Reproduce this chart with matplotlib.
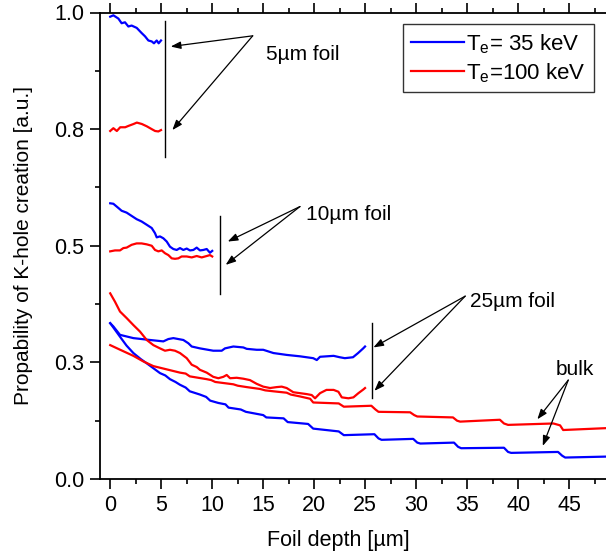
"""Probability of K-hole creation vs foil depth for 5/10/25 um foils and bulk."""

import matplotlib
matplotlib.use('Agg')
import matplotlib.pyplot as plt
from matplotlib.ticker import MultipleLocator

plt.rcParams['font.family'] = ['Liberation Sans', 'DejaVu Sans']
plt.rcParams['mathtext.fontset'] = 'custom'
plt.rcParams['mathtext.rm'] = 'Liberation Sans'

# ── data ──────────────────────────────────────────────────────────────────────
# 5 um foil
f5_35_x = [0, 0.31, 0.8, 1.12, 1.45, 1.78, 2.1, 2.6, 3.08, 3.41, 3.74, 4.07, 4.29, 4.56, 4.75, 4.98]
f5_35_y = [0.991, 0.994, 0.987, 0.977, 0.979, 0.970, 0.972, 0.967, 0.956, 0.949, 0.940, 0.938,
           0.934, 0.940, 0.934, 0.940]
f5_100_x = [0, 0.31, 0.65, 0.98, 1.47, 1.8, 2.29, 2.61, 3.1, 3.59, 4.07, 4.4, 4.72, 4.98]
f5_100_y = [0.746, 0.752, 0.746, 0.754, 0.754, 0.757, 0.761, 0.764, 0.761, 0.756, 0.750,
            0.746, 0.745, 0.748]

# 10 um foil
f10_35_x = [0, 0.31, 0.8, 1.12, 1.61, 2.1, 2.59, 3.08, 3.58, 4.07, 4.39, 4.56, 4.88, 5.21,
            5.54, 5.86, 6.19, 6.52, 6.84, 7.17, 7.5, 7.82, 8.15, 8.48, 8.8, 9.13, 9.46, 9.78, 10.0]
f10_35_y = [0.591, 0.590, 0.581, 0.575, 0.571, 0.564, 0.557, 0.552, 0.545, 0.538, 0.527,
            0.518, 0.520, 0.516, 0.509, 0.498, 0.493, 0.491, 0.495, 0.491, 0.494, 0.490,
            0.491, 0.496, 0.490, 0.491, 0.493, 0.485, 0.489]
f10_100_x = [0, 0.47, 0.96, 1.29, 1.61, 2.1, 2.59, 3.08, 3.58, 4.07, 4.39, 4.72, 5.05, 5.37,
             5.7, 6.03, 6.35, 6.68, 7.0, 7.5, 7.99, 8.48, 8.97, 9.46, 9.78, 10.0]
f10_100_y = [0.488, 0.490, 0.490, 0.495, 0.496, 0.502, 0.505, 0.505, 0.503, 0.500, 0.491,
             0.488, 0.490, 0.484, 0.480, 0.473, 0.472, 0.473, 0.477, 0.477, 0.475, 0.478,
             0.475, 0.478, 0.480, 0.477]

# 25 um foil
f25_35_x = [0, 0.31, 0.96, 2.27, 3.9, 5.21, 5.7, 6.19, 7.17, 7.66, 7.99, 8.8, 10.1, 10.93,
            11.25, 12.07, 13.05, 13.38, 14.36, 15.0, 16.0, 17.3, 18.6, 19.9, 20.25, 20.57,
            21.9, 22.5, 23.0, 23.8, 24.3, 24.8, 24.98]
f25_35_y = [0.334, 0.327, 0.309, 0.302, 0.298, 0.295, 0.300, 0.302, 0.298, 0.291, 0.284,
            0.280, 0.275, 0.275, 0.280, 0.284, 0.282, 0.279, 0.277, 0.277, 0.270, 0.266,
            0.263, 0.259, 0.255, 0.262, 0.264, 0.261, 0.259, 0.261, 0.270, 0.280, 0.284]
f25_100_x = [0, 0.47, 0.96, 1.61, 2.27, 2.92, 3.58, 4.23, 4.88, 5.37, 5.86, 6.35, 6.84, 7.5,
             7.99, 8.48, 8.8, 9.46, 10.1, 10.6, 11.09, 11.42, 11.75, 12.4, 13.05, 13.7, 14.36,
             15.0, 15.67, 16.32, 16.81, 17.3, 17.95, 18.6, 19.26, 19.75, 20.08, 20.57, 21.2,
             21.9, 22.37, 22.7, 23.35, 23.84, 24.33, 24.82, 24.98]
f25_100_y = [0.398, 0.380, 0.359, 0.345, 0.330, 0.316, 0.298, 0.287, 0.280, 0.275, 0.277,
             0.275, 0.270, 0.259, 0.245, 0.240, 0.234, 0.228, 0.219, 0.216, 0.219, 0.223,
             0.216, 0.217, 0.215, 0.212, 0.204, 0.198, 0.195, 0.197, 0.198, 0.195, 0.186,
             0.184, 0.182, 0.180, 0.173, 0.184, 0.191, 0.191, 0.187, 0.175, 0.173, 0.175,
             0.184, 0.192, 0.195]

# bulk
bulk_35_x = [0, 0.3, 0.96, 1.6, 2.27, 3.0, 3.58, 4.2, 4.88, 5.4, 5.86, 6.4, 6.84, 7.4, 7.8,
             8.8, 9.4, 9.8, 10.6, 11.3, 11.6, 12.8, 13.3, 15.0, 15.3, 17.0, 17.4, 19.4, 19.9,
             22.4, 22.9, 25.9, 26.3, 26.6, 29.7, 30.1, 30.4, 33.7, 34.1, 34.4, 38.6, 39.0,
             39.3, 43.9, 44.3, 44.6, 48.6]
bulk_35_y = [0.334, 0.325, 0.305, 0.286, 0.270, 0.257, 0.248, 0.238, 0.227, 0.222, 0.214,
             0.208, 0.202, 0.196, 0.188, 0.181, 0.176, 0.168, 0.163, 0.160, 0.153, 0.149,
             0.144, 0.137, 0.132, 0.130, 0.122, 0.118, 0.108, 0.102, 0.094, 0.096, 0.087,
             0.084, 0.086, 0.078, 0.076, 0.078, 0.069, 0.066, 0.067, 0.058, 0.056, 0.058,
             0.050, 0.046, 0.048]
bulk_100_x = [0, 0.98, 2.27, 3.25, 4.23, 5.54, 6.84, 7.4, 7.8, 9.46, 9.9, 10.3, 12.07, 12.5,
              13.38, 14.69, 15.2, 16.0, 17.3, 17.7, 18.6, 19.6, 19.9, 22.4, 22.9, 25.6, 26.0,
              26.3, 29.4, 29.8, 30.1, 33.6, 34.0, 34.3, 38.2, 38.6, 39.0, 43.45, 44.1, 44.4,
              48.6]
bulk_100_y = [0.287, 0.277, 0.264, 0.252, 0.242, 0.235, 0.228, 0.226, 0.220, 0.214, 0.212,
              0.208, 0.203, 0.200, 0.197, 0.193, 0.190, 0.188, 0.185, 0.181, 0.177, 0.172,
              0.164, 0.162, 0.155, 0.157, 0.149, 0.144, 0.143, 0.137, 0.134, 0.132, 0.125,
              0.123, 0.127, 0.119, 0.116, 0.119, 0.115, 0.105, 0.109]

y_ticks = [0.0, 0.25, 0.5, 0.75, 1.0]
y_tick_labels = ['0.0', '0.3', '0.5', '0.8', '1.0']

# annotation markers: (x, y_bottom, y_top), text, text pos, arrow tail, arrow heads
marks = [
    (5.37, 0.691, 0.981, '5µm foil', (15.3, 0.909), (13.97, 0.950), [(5.93, 0.927), (6.09, 0.748)]),
    (10.77, 0.397, 0.563, '10µm foil', (19.2, 0.566), (18.6, 0.584), [(11.52, 0.509), (11.32, 0.459)]),
    (25.63, 0.173, 0.334, '25µm foil', (35.3, 0.380), (34.8, 0.392), [(25.8, 0.282), (25.9, 0.189)]),
    (None, None, None, 'bulk', (43.7, 0.235), (44.9, 0.212), [(41.87, 0.128), (42.4, 0.071)]),
]

BLUE = '#0000ff'
RED = '#ff0000'


def main():
    fig = plt.figure(figsize=(6.06, 5.58), dpi=100)
    ax = fig.add_axes([100 / 606, 79 / 558, 506 / 606, 466.5 / 558])

    lw = 1.6
    ax.plot(f5_35_x, f5_35_y, color=BLUE, lw=lw)
    ax.plot(f5_100_x, f5_100_y, color=RED, lw=lw)
    ax.plot(f10_35_x, f10_35_y, color=BLUE, lw=lw)
    ax.plot(f10_100_x, f10_100_y, color=RED, lw=lw)
    ax.plot(f25_35_x, f25_35_y, color=BLUE, lw=lw)
    ax.plot(f25_100_x, f25_100_y, color=RED, lw=lw)
    l35, = ax.plot(bulk_35_x, bulk_35_y, color=BLUE, lw=lw, label=r'T$_\mathregular{e}$= 35 keV')
    l100, = ax.plot(bulk_100_x, bulk_100_y, color=RED, lw=lw, label=r'T$_\mathregular{e}$=100 keV')

    # vertical markers + arrows + labels
    for xv, y0, y1, txt, tpos, tail, heads in marks:
        if xv is not None:
            ax.plot([xv, xv], [y0, y1], color='k', lw=1.0)
        for h in heads:
            ax.annotate('', xy=h, xytext=tail,
                        arrowprops=dict(arrowstyle='-|>,head_length=0.6,head_width=0.22',
                                        color='k', lw=0.9, mutation_scale=10,
                                        shrinkA=0, shrinkB=0))
        ax.text(tpos[0], tpos[1], txt, fontsize=15, ha='left', va='center')

    ax.set_xlim(-1, 48.6)
    ax.set_ylim(0, 1.0)
    ax.set_xticks(range(0, 50, 5))
    ax.xaxis.set_minor_locator(MultipleLocator(2.5))
    ax.set_yticks(y_ticks)
    ax.set_yticklabels(y_tick_labels)
    ax.yaxis.set_minor_locator(MultipleLocator(0.125))

    ax.tick_params(which='both', direction='out', top=True, right=False,
                   width=1.2, labelsize=15.5, pad=4.5)
    ax.tick_params(which='major', length=7)
    ax.tick_params(which='minor', length=3.6)
    for s in ['left', 'bottom', 'top']:
        ax.spines[s].set_linewidth(1.3)
    ax.spines['right'].set_visible(False)

    ax.set_xlabel('Foil depth [µm]', fontsize=15.5)
    ax.set_ylabel('Propability of K-hole creation [a.u.]', fontsize=15)
    ax.xaxis.set_label_coords(0.470, -0.109)
    ax.yaxis.set_label_coords(-0.132, 0.5)

    leg = ax.legend(handles=[l35, l100], loc='upper right', bbox_to_anchor=(0.976, 0.975),
                    borderaxespad=0, fontsize=16, frameon=True, fancybox=False,
                    edgecolor='#333333', framealpha=1, handlelength=2.4,
                    handletextpad=0.1, labelspacing=0.25, borderpad=0.35)
    leg.get_frame().set_linewidth(1.0)

    fig.savefig('out.png', dpi=100)


if __name__ == "__main__":
    main()
